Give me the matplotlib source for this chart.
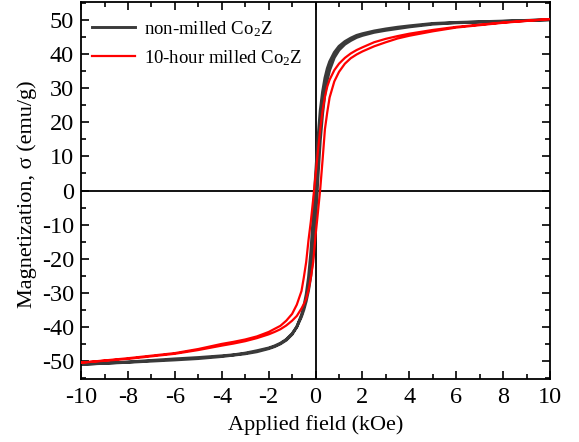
import matplotlib
matplotlib.use("Agg")
import matplotlib.pyplot as plt
from matplotlib.ticker import MultipleLocator

plt.rcParams['font.family'] = ['Liberation Serif', 'DejaVu Serif']
plt.rcParams['mathtext.fontset'] = 'custom'
plt.rcParams['mathtext.rm'] = 'Liberation Serif'
plt.rcParams['mathtext.it'] = 'Liberation Serif:italic'

# Applied field grid for the descending sweep (+10 -> -10 kOe)
field_down = [10, 8, 6, 5, 4, 3.5, 3, 2.5, 2, 1.75, 1.5, 1.25, 1.0, 0.8, 0.6, 0.5,
              0.4, 0.3, 0.2, 0.1, 0, -0.1, -0.2, -0.3, -0.4, -0.5, -0.6, -0.8,
              -1.0, -1.25, -1.5, -1.75, -2, -2.5, -3, -3.5, -4, -5, -6, -8, -10]
# Ascending sweep uses the same points in reverse (-10 -> +10 kOe)
field_up = field_down[::-1]

# Non-milled Co2Z magnetization (emu/g)
nonmilled_down = [50.1, 49.7, 49.3, 49.0, 48.3, 47.9, 47.4, 46.8, 46.0, 45.5, 44.7,
                  43.7, 42.3, 40.5, 37.8, 35.8, 33.0, 29.0, 23.5, 15.0, 4.5, -7.5,
                  -18.0, -25.5, -30.5, -34.0, -36.5, -40.0, -42.2, -43.9, -45.0,
                  -45.8, -46.4, -47.3, -47.9, -48.3, -48.7, -49.3, -49.7, -50.4, -51.0]
nonmilled_up = [-51.0, -50.3, -49.4, -49.0, -48.5, -48.2, -47.7, -47.0, -46.2, -45.6,
                -44.8, -43.7, -42.0, -40.0, -37.0, -35.0, -32.5, -29.3, -25.0, -18.5,
                -9.0, 3.5, 14.5, 22.5, 28.5, 32.5, 35.3, 39.0, 41.2, 42.9, 44.0, 44.9,
                45.5, 46.4, 47.0, 47.5, 48.0, 48.8, 49.2, 49.6, 50.1]

# 10-hour milled Co2Z magnetization (emu/g)
milled_down = [50.3, 49.3, 48.0, 47.1, 46.0, 45.3, 44.5, 43.5, 42.0, 41.2, 40.2, 38.9,
               37.2, 35.3, 32.5, 30.5, 27.5, 23.5, 18.0, 11.5, 4.5, -2.5, -9.0, -14.5,
               -21.0, -25.5, -29.5, -33.5, -36.2, -38.2, -39.7, -40.6, -41.5, -42.8,
               -43.7, -44.4, -45.0, -46.5, -47.7, -49.2, -50.5]
milled_up = [-50.5, -49.4, -47.9, -46.8, -45.5, -44.9, -44.2, -43.3, -42.2, -41.5,
             -40.7, -39.6, -38.2, -36.8, -34.6, -33.3, -31.8, -29.2, -25.5, -21.0,
             -13.2, -6.5, 0.5, 9.0, 18.0, 23.0, 27.3, 32.0, 34.8, 37.2, 38.8, 39.9,
             40.8, 42.3, 43.5, 44.6, 45.4, 46.7, 47.8, 49.2, 50.3]

x_ticks = [-10, -8, -6, -4, -2, 0, 2, 4, 6, 8, 10]
y_ticks = [-50, -40, -30, -20, -10, 0, 10, 20, 30, 40, 50]

fig = plt.figure(figsize=(5.79, 4.42), dpi=100)
ax = fig.add_axes([0.14, 0.1425, 0.81, 0.853])

ax.axhline(0, color='black', lw=1.3, zorder=1)
ax.axvline(0, color='black', lw=1.3, zorder=1)

black = '#3a3a3a'
red = '#ff0000'
ax.plot(field_down + field_up, nonmilled_down + nonmilled_up, color=black, lw=2.1,
        label=r'non-milled Co$_{\mathrm{2}}$Z', zorder=2)
ax.plot(field_down + field_up, milled_down + milled_up, color=red, lw=1.6,
        label=r'10-hour milled Co$_{\mathrm{2}}$Z', zorder=3)

ax.set_xlim(-10, 10)
ax.set_ylim(-55.3, 55.3)
ax.set_xticks(x_ticks)
ax.set_yticks(y_ticks)
ax.set_xticklabels([str(v) for v in x_ticks])
ax.set_yticklabels([str(v) for v in y_ticks])
ax.xaxis.set_minor_locator(MultipleLocator(1))
ax.yaxis.set_minor_locator(MultipleLocator(5))
ax.tick_params(which='both', direction='in', top=True, right=True, width=1.2,
               labelsize=17.5)
ax.tick_params(axis='x', which='both', pad=6)
ax.tick_params(axis='y', which='both', pad=5)
ax.tick_params(which='major', length=6)
ax.tick_params(which='minor', length=3.5)
for s in ax.spines.values():
    s.set_linewidth(1.3)

ax.set_xlabel('Applied field (kOe)', fontsize=16, labelpad=5)
ax.set_ylabel('Magnetization, σ (emu/g)', fontsize=16)
ax.yaxis.set_label_coords(-0.095, 0.49)

ax.legend(loc='upper left', frameon=False, fontsize=13.5, handlelength=2.3,
          handletextpad=0.5, labelspacing=0.5, borderaxespad=0.3,
          bbox_to_anchor=(-0.005, 0.99))

fig.savefig('out.png', dpi=100)
